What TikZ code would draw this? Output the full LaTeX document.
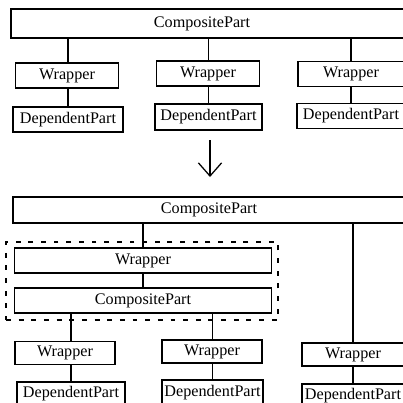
\documentclass[tikz,border=0pt]{standalone}
\usepackage{fontspec}
\setmainfont{Liberation Serif}
\usetikzlibrary{arrows.meta}
\newlength{\unitpx}
\setlength{\unitpx}{0.025cm}

\begin{document}
\begin{tikzpicture}[
  x=0.025cm, y=-0.025cm,
  %% Part boxes: plain rectangles, sizes set per node
  partbox/.style={draw,line width=1.1pt,rectangle,inner sep=0pt,
                  font=\fontsize{11.5}{13}\selectfont},
  %% Wrapped group: dashed frame
  groupbox/.style={draw,line width=1.2pt,rectangle,inner sep=0pt,
                   dash pattern=on 3.5pt off 5.5pt},
  %% Containment links: straight
  link/.style={line width=1.1pt},
  %% Transformation arrow
  morph/.style={-{Straight Barb[length=3.3mm,width=5.8mm]},line width=0.9pt}
]
\clip (0,0) rectangle (403,403);

%% ---- BEFORE (top) ----
\node[partbox,minimum width=400\unitpx,minimum height=29\unitpx] (compA) at (211,23.5)
  {\hspace*{-18\unitpx}CompositePart};

\node[partbox,minimum width=103\unitpx,minimum height=25\unitpx] (wrapA) at (67,75.5) {Wrapper};
\node[partbox,minimum width=103\unitpx,minimum height=25\unitpx] (wrapB) at (208,73.5) {Wrapper};
\node[partbox,minimum width=106\unitpx,minimum height=25\unitpx] (wrapC) at (351,74) {Wrapper};

\node[partbox,minimum width=110\unitpx,minimum height=25\unitpx] (depA) at (68,119.5) {DependentPart};
\node[partbox,minimum width=107\unitpx,minimum height=26\unitpx] (depB) at (208.5,117) {DependentPart};
\node[partbox,minimum width=108\unitpx,minimum height=25\unitpx] (depC) at (351,116) {DependentPart};

\draw[link] (compA.south -| depA) -- (wrapA.north -| depA);
\draw[link] (wrapA.south -| depA) -- (depA.north);
\draw[link] (compA.south -| depB) -- (wrapB.north -| depB);
\draw[link] (wrapB.south -| depB) -- (depB.north);
\draw[link] (compA.south -| depC) -- (wrapC.north -| depC);
\draw[link] (wrapC.south -| depC) -- (depC.north);

%% ---- ARROW ----
\coordinate (before) at (210,140);
\coordinate (after)  at (210,177);
\draw[morph] (before) -- (after);

%% ---- AFTER (bottom) ----
\node[groupbox,minimum width=272\unitpx,minimum height=78\unitpx] (group) at (142,281) {};

\node[partbox,minimum width=392\unitpx,minimum height=26\unitpx] (compB) at (209,210) {CompositePart};

\node[partbox,minimum width=257\unitpx,minimum height=25\unitpx] (wrapD) at (143,260.5) {Wrapper};
\node[partbox,minimum width=257\unitpx,minimum height=25\unitpx] (compC) at (143,300.5) {CompositePart};

\node[partbox,minimum width=100\unitpx,minimum height=23\unitpx] (wrapE) at (65,353) {Wrapper};
\node[partbox,minimum width=100\unitpx,minimum height=23\unitpx] (wrapF) at (212,351.5) {Wrapper};
\node[partbox,minimum width=102\unitpx,minimum height=23\unitpx] (wrapG) at (353,354.5) {Wrapper};

\node[partbox,minimum width=108\unitpx,minimum height=24\unitpx] (depD) at (71,394) {DependentPart};
\node[partbox,minimum width=101\unitpx,minimum height=26\unitpx] (depE) at (212.5,393) {DependentPart};
\node[partbox,minimum width=102\unitpx,minimum height=24\unitpx] (depF) at (353,396) {DependentPart};

\draw[link] (compB.south -| wrapD) -- (wrapD.north);
\draw[link] (wrapD.south) -- (compC.north);
\draw[link] (compC.south -| depD) -- (wrapE.north -| depD);
\draw[link] (wrapE.south -| depD) -- (depD.north);
\draw[link] (compC.south -| depE) -- (wrapF.north -| depE);
\draw[link] (wrapF.south -| depE) -- (depE.north);
\draw[link] (compB.south -| depF) -- (wrapG.north -| depF);
\draw[link] (wrapG.south -| depF) -- (depF.north);

\end{tikzpicture}
\end{document}
